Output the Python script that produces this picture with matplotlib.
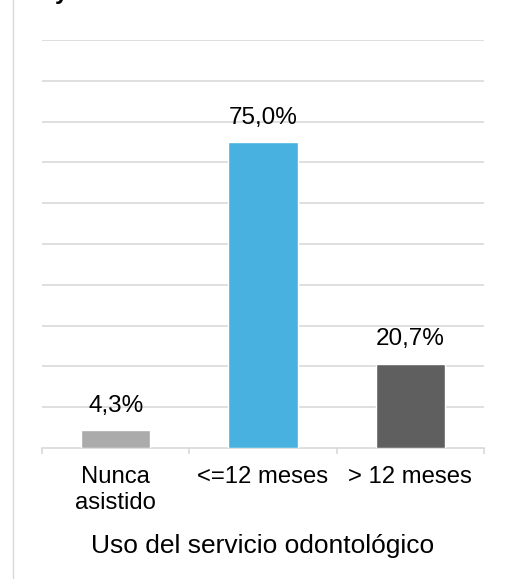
import matplotlib.pyplot as plt
from matplotlib.patches import Rectangle

plt.rcParams['font.family'] = ['Liberation Sans', 'DejaVu Sans']

# data
categories = ["Nunca\nasistido", "<=12 meses", "> 12 meses"]
values = [4.3, 75.0, 20.7]
colors = ["#ABABAB", "#48B1E0", "#5F5F5F"]
xlabel = "Uso del servicio odontológico"

W, H = 509, 579
fig = plt.figure(figsize=(W / 100, H / 100), dpi=100)
ax = fig.add_axes([42 / W, 1 - 448 / H, (484 - 42) / W, (448 - 40) / H])

x = list(range(len(categories)))
bars = ax.bar(x, values, width=0.47, color=colors, edgecolor="white",
			  linewidth=1.0, zorder=3)

for b, v in zip(bars, values):
	label = ("%.1f%%" % v).replace(".", ",")
	ax.annotate(label, (b.get_x() + b.get_width() / 2, v),
				xytext=(0, 13), textcoords="offset points",
				ha="center", va="baseline", fontsize=17.5, color="#000000")

ax.set_xlim(-0.5, len(categories) - 0.5)
ax.set_ylim(0, 100)
ax.set_yticks(range(10, 101, 10))
ax.yaxis.grid(True, color="#D9D9D9", linewidth=1.2, zorder=0)
ax.tick_params(axis="y", left=False, labelleft=False)

ax.set_xticks(x)
ax.set_xticklabels(categories, fontsize=17.2, linespacing=1.25)
ax.set_xticks([i - 0.5 for i in range(len(categories) + 1)], minor=True)
ax.tick_params(axis="x", which="major", length=0, pad=13)
ax.tick_params(axis="x", which="minor", length=4, width=1.2, color="#D9D9D9")

for s in ["top", "right", "left"]:
	ax.spines[s].set_visible(False)
ax.spines["bottom"].set_color("#D9D9D9")
ax.spines["bottom"].set_linewidth(1.2)

ax.set_xlabel(xlabel, fontsize=19, labelpad=14)

# chart frame, cut off on the right and bottom
fig.patches.append(Rectangle((12.5 / W, -0.2), 1.2, 1.2 + 1 - 11.5 / H,
							 transform=fig.transFigure, fill=False,
							 edgecolor="#D9D9D9", linewidth=1.0))

# bit of the title showing above the frame
fig.text(55 / W, 1 + 1 / H, "y", fontsize=17, fontweight="bold",
		 ha="left", va="baseline")

fig.savefig("out.png", dpi=100)
